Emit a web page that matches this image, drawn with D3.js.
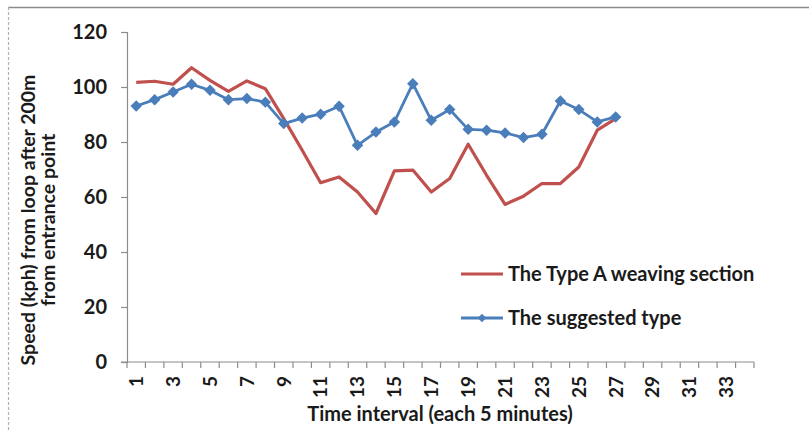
<!DOCTYPE html>
<html>
<head>
<meta charset="utf-8">
<script src="https://cdn.jsdelivr.net/npm/d3@7"></script>
<style>
  body { margin: 0; background: #fff; }
  svg { display: block; font-family: Lato, "Open Sans", sans-serif; font-weight: bold; }
</style>
</head>
<body>
<svg></svg>
<script>
// chart data
var categories = d3.range(1, 35);
var tickLabels = categories.filter(function (d) { return d % 2 === 1; });
var yTicks = [0, 20, 40, 60, 80, 100, 120];
var typeA = [101.7, 102.1, 101, 107, 102.4, 98.4, 102.2, 99.4, 88.5, 77,
             65.2, 67.3, 61.8, 54, 69.5, 69.8, 61.8, 66.7, 79.2, 67.9,
             57.3, 60.3, 64.9, 64.9, 70.9, 84.3, 88.5];
var suggested = [93.1, 95.4, 98.2, 101, 98.8, 95.4, 95.8, 94.5, 86.7, 88.7,
                 90.1, 93, 78.8, 83.6, 87.3, 101.2, 87.9, 91.8, 84.6, 84.3,
                 83.3, 81.6, 82.8, 94.9, 91.8, 87.3, 89.1];
var seriesNames = ['The Type A weaving section', 'The suggested type'];

function start() {
    var svg = d3.select('svg')
        .attr('width', 809)
        .attr('height', 432);

    // frame lines (top and left only)
    svg.append('line')
        .attr('x1', 8).attr('x2', 809).attr('y1', 7.5).attr('y2', 7.5)
        .style('stroke', '#8a8a8a').style('stroke-width', 1.5);
    svg.append('line')
        .attr('x1', 8.5).attr('x2', 8.5).attr('y1', 7).attr('y2', 432)
        .style('stroke', '#b0b0b0').style('stroke-width', 1.2)
        .style('stroke-dasharray', '3,2');

    var left = 127, right = 754, top = 32, bottom = 362;

    var x = d3.scaleBand()
        .domain(categories)
        .range([left, right]);

    var y = d3.scaleLinear()
        .domain([0, 120])
        .range([bottom, top]);

    // y axis
    var yAxis = svg.append('g')
        .attr('transform', 'translate(' + left + ',0)')
        .call(d3.axisLeft(y).tickValues(yTicks).tickSize(6).tickPadding(14));
    yAxis.select('.domain').style('stroke', '#8c8c8c').style('stroke-width', 1.2);
    yAxis.selectAll('.tick line').style('stroke', '#8c8c8c').style('stroke-width', 1.2);
    yAxis.selectAll('.tick text')
        .style('font-size', '20px').style('font-weight', 'bold')
        .style('font-family', 'Lato, sans-serif').style('fill', '#1a1a1a');

    // x axis: ticks at category boundaries
    var xg = svg.append('g')
        .attr('transform', 'translate(0,' + bottom + ')');
    xg.append('line')
        .attr('x1', left - 6).attr('x2', right)
        .style('stroke', '#8c8c8c').style('stroke-width', 1.2);
    xg.selectAll('.xtick')
        .data(categories)
        .enter().append('line')
        .attr('class', 'xtick')
        .attr('x1', function (d) { return x(d) + x.bandwidth(); })
        .attr('x2', function (d) { return x(d) + x.bandwidth(); })
        .attr('y1', 0).attr('y2', 6)
        .style('stroke', '#8c8c8c').style('stroke-width', 1.2);
    xg.append('line')
        .attr('x1', left).attr('x2', left).attr('y1', 0).attr('y2', 6)
        .style('stroke', '#8c8c8c').style('stroke-width', 1.2);
    xg.selectAll('.xlabel')
        .data(tickLabels)
        .enter().append('text')
        .attr('class', 'xlabel')
        .attr('transform', function (d) {
            return 'translate(' + (x(d) + x.bandwidth() / 2) + ',14) rotate(-90)';
        })
        .attr('text-anchor', 'end')
        .attr('dy', '0.36em')
        .style('font-size', '19px')
        .style('fill', '#1a1a1a')
        .text(function (d) { return d; });

    // axis titles
    svg.append('text')
        .attr('x', 440).attr('y', 421)
        .attr('text-anchor', 'middle')
        .style('font-size', '20px').style('fill', '#1a1a1a')
        .text('Time interval (each 5 minutes)');

    var yt = svg.append('text')
        .attr('transform', 'translate(0,220) rotate(-90)')
        .attr('text-anchor', 'middle')
        .style('font-size', '19.5px').style('fill', '#1a1a1a');
    yt.append('tspan').attr('x', 0).attr('y', 35).text('Speed (kph) from loop after 200m');
    yt.append('tspan').attr('x', 0).attr('y', 55).text('from entrance point');

    var cx = function (d, i) { return x(categories[i]) + x.bandwidth() / 2; };
    var line = d3.line()
        .x(cx)
        .y(function (d) { return y(d); });

    svg.append('path')
        .datum(typeA)
        .attr('d', line)
        .style('fill', 'none')
        .style('stroke', '#c0504d')
        .style('stroke-width', 3.2)
        .style('stroke-linejoin', 'round');

    svg.append('path')
        .datum(suggested)
        .attr('d', line)
        .style('fill', 'none')
        .style('stroke', '#4a7ebb')
        .style('stroke-width', 2.8)
        .style('stroke-linejoin', 'round');

    var diamond = d3.symbol().type(d3.symbolSquare).size(66);
    svg.selectAll('.marker')
        .data(suggested)
        .enter().append('path')
        .attr('class', 'marker')
        .attr('d', diamond)
        .attr('transform', function (d, i) {
            return 'translate(' + cx(d, i) + ',' + y(d) + ') rotate(45)';
        })
        .style('fill', '#4a7ebb');

    // legend
    var legend = svg.append('g');
    legend.append('line')
        .attr('x1', 461).attr('x2', 503).attr('y1', 274).attr('y2', 274)
        .style('stroke', '#c0504d').style('stroke-width', 3.2);
    legend.append('line')
        .attr('x1', 461).attr('x2', 503).attr('y1', 318).attr('y2', 318)
        .style('stroke', '#4a7ebb').style('stroke-width', 2.8);
    legend.append('path')
        .attr('d', d3.symbol().type(d3.symbolSquare).size(36))
        .attr('transform', 'translate(482,318) rotate(45)')
        .style('fill', '#4a7ebb');
    legend.selectAll('.ltext')
        .data(seriesNames)
        .enter().append('text')
        .attr('class', 'ltext')
        .attr('x', 508)
        .attr('y', function (d, i) { return 274 + i * 44; })
        .attr('dy', '0.36em')
        .style('font-size', '20px').style('fill', '#1a1a1a')
        .text(function (d) { return d; });
}

start();
</script>
</body>
</html>
